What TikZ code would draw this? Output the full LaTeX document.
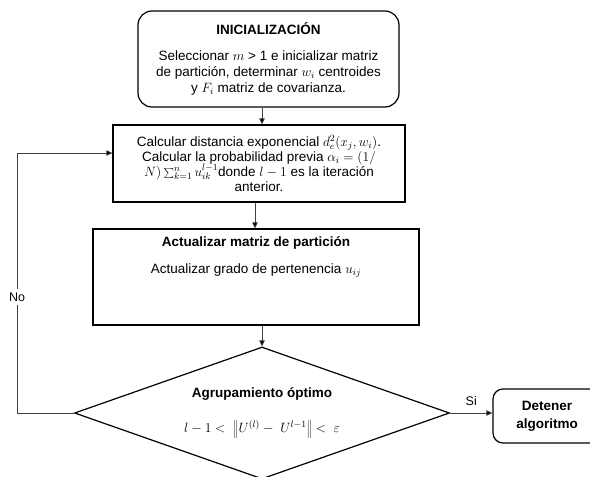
\documentclass[tikz,border=0pt]{standalone}
\usepackage{fix-cm}
\usepackage[no-math]{fontspec}
\setmainfont{Liberation Sans}
\usetikzlibrary{shapes.geometric,arrows.meta,calc}
\begin{document}
\begin{tikzpicture}[x=1pt,y=-1pt,
  txt/.style={font=\fontsize{13.5}{16}\selectfont, align=center, inner sep=0pt},
  box/.style={txt, draw, line width=1.2pt},
  rbox/.style={box, rounded corners=14pt},
  conn/.style={draw=black!75, line width=0.8pt, -{Triangle[length=6pt,width=5.5pt,fill=black]}},
  lbl/.style={font=\fontsize{12.5}{14}\selectfont, inner sep=1pt, fill=white}]
\useasboundingbox (0,0) rectangle (590,477);
\clip (0,0) rectangle (590,477);
\fill[white] (0,0) rectangle (590,477);

\node[rbox, minimum width=261pt, minimum height=96pt] (init) at (268.5,59)
  {{\bfseries INICIALIZACIÓN}\\[10pt]
   Seleccionar $m$ > 1 e inicializar matriz\\
   de partición, determinar $w_i$ centroides\\
   y $F_i$ matriz de covarianza.};

\node[box, minimum width=292pt, minimum height=77pt] (calc) at (259,163.5)
  {Calcular distancia exponencial $d_e^2(x_j,w_i)$.\\[-1pt]
   Calcular la probabilidad previa $\alpha_i=(1/$\\[-1pt]
   $N)\sum_{k=1}^{n}u_{ik}^{l-1}$donde $l-1$ es la iteración\\[-1pt]
   anterior.};

\node[box, minimum width=326pt, minimum height=96pt] (upd) at (256,277) {};
\node[txt] (updh) at (256,243) {\bfseries Actualizar matriz de partición};
\node[txt] (updt) at (256,271) {Actualizar grado de pertenencia $u_{ij}$};

\node[draw, line width=1.2pt, diamond, aspect=2.84, inner sep=0pt,
      minimum width=375pt, minimum height=132pt] (dia) at (262,413) {};
\node[txt] (diah) at (262,394) {\bfseries Agrupamiento óptimo};
\node[txt] (diat) at (262,429) {$l-1<\ \left\|U^{(l)}-\ U^{l-1}\right\|<\ \varepsilon$};

\node[rbox, minimum width=108pt, minimum height=54pt, rounded corners=10pt] (stop) at (547,416)
  {\bfseries Detener\\[2pt]\bfseries algoritmo};

\draw[conn] (init.south -| dia.north) -- (calc.north -| dia.north);
\draw[conn] (calc.south -| 255,0) -- (upd.north -| 255,0);
\draw[conn] (upd.south -| dia.north) -- (dia.north);
\draw[conn] (dia.east) -- (dia.east -| stop.west) node[lbl, midway, above=6pt, fill=none] (si) {Si};

\coordinate (nob) at (17,413);
\coordinate (not) at (17,153);
\draw[conn] (dia.west) -- (nob) -- (not) -- (not -| calc.west);
\node[lbl, inner ysep=4pt] (no) at (17,297) {No};
\end{tikzpicture}
\end{document}
